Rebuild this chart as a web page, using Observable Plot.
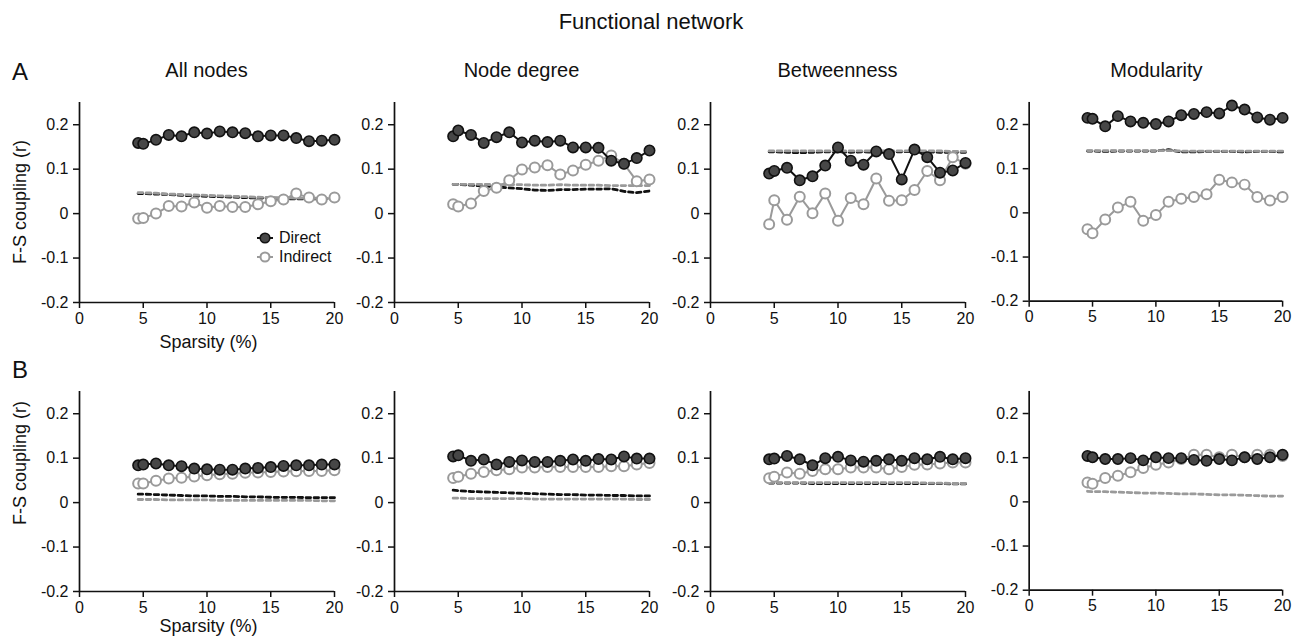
<!DOCTYPE html>
<html><head><meta charset="utf-8">
<script src="https://cdn.jsdelivr.net/npm/d3@7"></script>
<script src="https://cdn.jsdelivr.net/npm/@observablehq/plot@0.6"></script>
<style>
html,body{margin:0;padding:0;background:#fff;}
#fig{position:relative;width:1302px;height:644px;font-family:"Liberation Sans",Arial,sans-serif;color:#111;overflow:hidden;background:#fff}
.lbl{position:absolute;white-space:nowrap;line-height:1;}
.panel{position:absolute}
</style></head><body><div id="fig"></div>
<script>
// ---------- data ----------
const figTitle = "Functional network";
const rowLabels = ["A", "B"];
const panelTitles = ["All nodes", "Node degree", "Betweenness", "Modularity"];
const xLabel = "Sparsity (%)";
const yLabel = "F-S coupling (r)";
const seriesNames = ["Direct", "Indirect"];
const xTicks = [0, 5, 10, 15, 20];
const yTicks = [-0.2, -0.1, 0, 0.1, 0.2];
const xDomain = [0, 20];
const yDomain = [-0.2, 0.25];
const sparsity = [4.6, 5, 6, 7, 8, 9, 10, 11, 12, 13, 14, 15, 16, 17, 18, 19, 20];

// Row A
const directA = [
  [0.159,0.157,0.166,0.177,0.174,0.183,0.180,0.185,0.183,0.181,0.174,0.176,0.176,0.170,0.163,0.164,0.166],
  [0.174,0.187,0.177,0.159,0.172,0.183,0.160,0.164,0.161,0.164,0.149,0.149,0.148,0.119,0.112,0.125,0.142],
  [0.090,0.096,0.103,0.075,0.084,0.108,0.149,0.119,0.110,0.140,0.134,0.077,0.144,0.127,0.092,0.097,0.114],
  [0.215,0.213,0.196,0.219,0.207,0.204,0.201,0.207,0.221,0.224,0.228,0.225,0.243,0.234,0.216,0.211,0.215]
];
const indirectA = [
  [-0.011,-0.010,0.000,0.017,0.016,0.025,0.013,0.017,0.015,0.015,0.021,0.028,0.032,0.045,0.036,0.032,0.036],
  [0.021,0.016,0.023,0.051,0.058,0.075,0.099,0.104,0.109,0.088,0.097,0.110,0.119,0.131,0.112,0.073,0.077],
  [-0.024,0.030,-0.014,0.038,0.001,0.045,-0.016,0.035,0.021,0.079,0.029,0.030,0.053,0.096,0.075,0.127,0.112],
  [-0.037,-0.046,-0.015,0.012,0.025,-0.018,-0.005,0.025,0.032,0.036,0.042,0.075,0.069,0.064,0.036,0.028,0.036]
];
const nullDirectA = [
  [0.045,0.045,0.044,0.043,0.041,0.040,0.039,0.038,0.037,0.036,0.035,0.035,0.034,0.033,0.033,0.033,0.033],
  [0.066,0.066,0.064,0.062,0.060,0.058,0.056,0.053,0.052,0.054,0.054,0.055,0.055,0.056,0.050,0.047,0.051],
  [0.139,0.139,0.138,0.137,0.138,0.139,0.139,0.138,0.139,0.138,0.139,0.139,0.140,0.139,0.138,0.138,0.138],
  [0.140,0.140,0.139,0.140,0.140,0.140,0.140,0.143,0.138,0.138,0.139,0.139,0.139,0.138,0.139,0.139,0.138]
];
const nullIndirectA = [
  [0.047,0.047,0.046,0.044,0.043,0.042,0.041,0.040,0.039,0.038,0.037,0.036,0.036,0.035,0.035,0.035,0.035],
  [0.066,0.066,0.066,0.066,0.065,0.065,0.065,0.064,0.064,0.065,0.064,0.064,0.064,0.063,0.063,0.063,0.063],
  [0.141,0.141,0.141,0.141,0.141,0.141,0.141,0.141,0.141,0.141,0.141,0.141,0.141,0.141,0.141,0.140,0.140],
  [0.141,0.141,0.141,0.141,0.141,0.141,0.141,0.141,0.140,0.140,0.140,0.140,0.140,0.140,0.140,0.140,0.140]
];

// Row B
const directB = [
  [0.084,0.0855,0.088,0.084,0.082,0.0765,0.075,0.074,0.074,0.0765,0.078,0.080,0.0825,0.084,0.084,0.0855,0.086],
  [0.104,0.1065,0.094,0.097,0.0855,0.0915,0.095,0.0915,0.0915,0.094,0.097,0.094,0.098,0.097,0.104,0.099,0.099],
  [0.0975,0.099,0.105,0.0975,0.084,0.100,0.103,0.095,0.092,0.094,0.0975,0.094,0.100,0.0975,0.103,0.0975,0.100],
  [0.104,0.101,0.097,0.097,0.099,0.094,0.101,0.099,0.099,0.095,0.093,0.097,0.094,0.101,0.097,0.101,0.1065]
];
const indirectB = [
  [0.043,0.043,0.049,0.054,0.056,0.059,0.0615,0.064,0.065,0.067,0.068,0.069,0.070,0.0705,0.071,0.071,0.073],
  [0.0555,0.058,0.065,0.069,0.073,0.075,0.079,0.079,0.080,0.080,0.080,0.080,0.080,0.082,0.082,0.086,0.089],
  [0.055,0.058,0.0675,0.065,0.071,0.075,0.075,0.079,0.079,0.079,0.075,0.080,0.085,0.086,0.088,0.090,0.090],
  [0.044,0.041,0.054,0.059,0.067,0.0765,0.084,0.089,0.097,0.1065,0.1065,0.101,0.1065,0.101,0.1065,0.1065,0.104]
];
const nullDirectB = [
  [0.019,0.019,0.018,0.017,0.016,0.015,0.015,0.014,0.014,0.013,0.013,0.012,0.012,0.012,0.011,0.011,0.011],
  [0.028,0.027,0.025,0.024,0.023,0.022,0.021,0.020,0.019,0.018,0.018,0.017,0.017,0.016,0.016,0.015,0.015],
  [0.044,0.044,0.044,0.044,0.043,0.043,0.043,0.043,0.043,0.043,0.043,0.043,0.043,0.043,0.043,0.042,0.042],
  null
];
const nullIndirectB = [
  [0.007,0.007,0.007,0.006,0.006,0.006,0.006,0.005,0.005,0.005,0.005,0.005,0.005,0.005,0.005,0.004,0.004],
  [0.010,0.010,0.009,0.009,0.009,0.009,0.009,0.008,0.008,0.008,0.008,0.008,0.008,0.008,0.008,0.007,0.007],
  [0.046,0.045,0.045,0.045,0.045,0.045,0.045,0.045,0.045,0.045,0.045,0.045,0.045,0.044,0.044,0.043,0.043],
  [0.024,0.023,0.023,0.022,0.021,0.020,0.020,0.019,0.018,0.018,0.017,0.016,0.016,0.015,0.014,0.013,0.013]
];

// ---------- layout / style ----------
const FONT = '"Liberation Sans", Arial, sans-serif';
const INK = "#111";
const DIRECT_FILL = "#474747";
const GRAY = "#9a9a9a";
const plotLeft = [79, 394, 710, 1029];
const plotTop = [102, 391];
const plotW = 255, plotH = 200;
const ML = 55, MR = 20, MT = 10, MB = 30;

const fig = document.getElementById("fig");

function addText(txt, x, baseline, size, opts = {}) {
  const d = document.createElement("div");
  d.className = "lbl";
  d.textContent = txt;
  d.style.fontSize = size + "px";
  d.style.left = x + "px";
  if (opts.rotate) {
    d.style.top = baseline + "px";
    d.style.transform = "translate(-50%,-50%) rotate(-90deg)";
  } else {
    d.style.top = (baseline - 0.8465 * size) + "px";
    if (opts.anchor === "middle") d.style.transform = "translateX(-50%)";
  }
  fig.appendChild(d);
}

function makePanel(row, col, direct, indirect, nullD, nullI) {
  const data = sparsity.map((s, i) => ({
    s,
    d: direct[i],
    ind: indirect[i],
    nd: nullD ? nullD[i] : null,
    ni: nullI ? nullI[i] : null
  }));
  const marks = [
    Plot.ruleX([xDomain[0]], {stroke: INK, strokeWidth: 1.7}),
    Plot.ruleY([yDomain[0]], {stroke: INK, strokeWidth: 1.7}),
    Plot.axisX({ticks: xTicks, tickSize: 6, tickPadding: 4, label: null, strokeWidth: 1.5, tickFormat: d => String(d)}),
    Plot.axisY({ticks: yTicks, tickSize: 6, tickPadding: 5, label: null, strokeWidth: 1.5,
      tickFormat: d => d === 0 ? "0" : d.toFixed(1)})
  ];
  if (nullD) marks.push(Plot.lineY(data, {x: "s", y: "nd", stroke: INK, strokeWidth: 2.8, strokeDasharray: "4.5,3.5"}));
  if (nullI) marks.push(Plot.lineY(data, {x: "s", y: "ni", stroke: GRAY, strokeWidth: 2.8, strokeDasharray: "4.5,3.5"}));
  marks.push(
    Plot.lineY(data, {x: "s", y: "ind", stroke: GRAY, strokeWidth: 2}),
    Plot.dot(data, {x: "s", y: "ind", r: 5, fill: "#fff", stroke: GRAY, strokeWidth: 2}),
    Plot.lineY(data, {x: "s", y: "d", stroke: INK, strokeWidth: 2}),
    Plot.dot(data, {x: "s", y: "d", r: 5.2, fill: DIRECT_FILL, stroke: INK, strokeWidth: 1.6})
  );
  const svg = Plot.plot({
    width: ML + plotW + MR,
    height: MT + plotH + MB,
    marginLeft: ML, marginRight: MR, marginTop: MT, marginBottom: MB,
    x: {domain: xDomain, label: null},
    y: {domain: yDomain, label: null},
    style: {fontFamily: FONT, fontSize: "16px", color: INK, background: "transparent", overflow: "visible"},
    marks
  });
  const wrap = document.createElement("div");
  wrap.className = "panel";
  wrap.style.left = (plotLeft[col] - ML) + "px";
  wrap.style.top = (plotTop[row] - MT) + "px";
  wrap.appendChild(svg);
  fig.appendChild(wrap);
}

const rowsData = [
  [directA, indirectA, nullDirectA, nullIndirectA],
  [directB, indirectB, nullDirectB, nullIndirectB]
];
rowsData.forEach((r, ri) => {
  for (let c = 0; c < 4; c++) makePanel(ri, c, r[0][c], r[1][c], r[2][c], r[3][c]);
});

// ---------- texts ----------
addText(figTitle, 651, 30, 22, {anchor: "middle"});
addText(rowLabels[0], 12, 80, 24);
addText(rowLabels[1], 12, 378, 24);
panelTitles.forEach((t, c) => addText(t, plotLeft[c] + plotW / 2, 77, 20, {anchor: "middle"}));
addText(xLabel, plotLeft[0] + plotW / 2 + 2, 348, 18, {anchor: "middle"});
addText(xLabel, plotLeft[0] + plotW / 2 + 2, 632, 18, {anchor: "middle"});
addText(yLabel, 20, 202, 18, {rotate: true});
addText(yLabel, 20, 463, 18, {rotate: true});

// ---------- legend (panel A1) ----------
function legendRow(kind, name, cy) {
  const s = document.createElementNS("http://www.w3.org/2000/svg", "svg");
  s.setAttribute("width", 20); s.setAttribute("height", 14);
  s.style.position = "absolute";
  s.style.left = "255px"; s.style.top = (cy - 7) + "px";
  const stroke = kind === 0 ? INK : GRAY;
  const fill = kind === 0 ? DIRECT_FILL : "#fff";
  s.innerHTML = `<line x1="2" x2="18" y1="7" y2="7" stroke="${stroke}" stroke-width="2"/>` +
    `<circle cx="10" cy="7" r="${kind === 0 ? 4.8 : 4.5}" fill="${fill}" stroke="${stroke}" stroke-width="${kind === 0 ? 1.6 : 2}"/>`;
  fig.appendChild(s);
  addText(name, 279, cy + 6, 16);
}
legendRow(0, seriesNames[0], 238);
legendRow(1, seriesNames[1], 257);
</script></body></html>
